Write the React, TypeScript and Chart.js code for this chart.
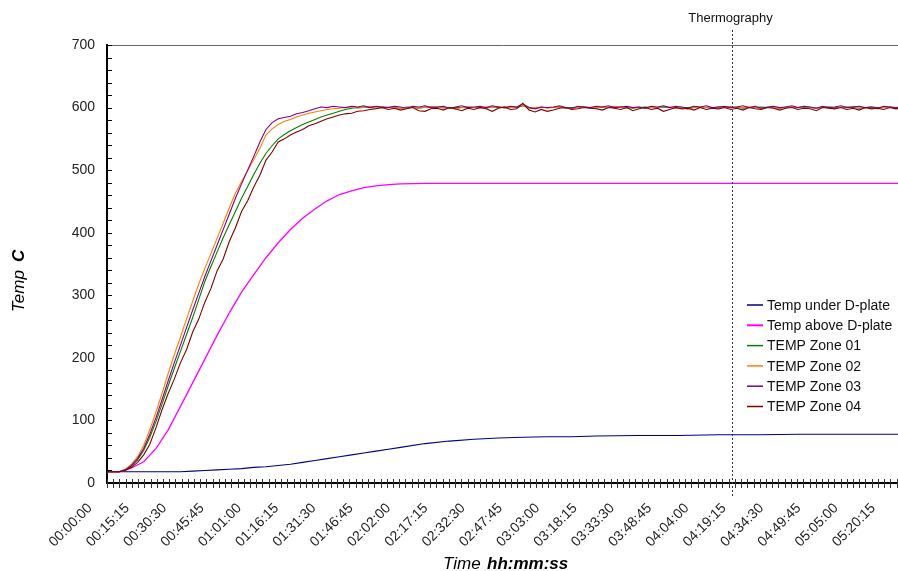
import React, { useEffect, useRef } from "react";
import { Chart, registerables } from "chart.js";

Chart.register(...registerables);

// ---------- DATA ----------
// time (seconds from start) for the zone thermocouples
const timeZones = [
  0, 150, 300, 450, 600, 750, 900, 1050, 1200, 1350,
  1500, 1650, 1800, 1950, 2100, 2250, 2400, 2550, 2700, 2850,
  3000, 3150, 3300, 3450, 3600, 3750, 3900, 4050, 4200, 4350,
  4500, 4650, 4800, 4950, 5100, 5250, 5400, 5550, 5700, 5850,
  6000, 6150, 6300, 6450, 6600, 6750, 6900, 7050, 7200, 7350,
  7500, 7650, 7800, 7950, 8100, 8250, 8400, 8550, 8700, 8850,
  9000, 9150, 9300, 9450, 9600, 9750, 9900, 10050, 10200, 10350,
  10500, 10650, 10800, 10950, 11100, 11250, 11400, 11550, 11700, 11850,
  12000, 12150, 12300, 12450, 12600, 12750, 12900, 13050, 13200, 13350,
  13500, 13650, 13800, 13950, 14100, 14250, 14400, 14550, 14700, 14850,
  15000, 15150, 15300, 15450, 15600, 15750, 15900, 16050, 16200, 16350,
  16500, 16650, 16800, 16950, 17100, 17250, 17400, 17550, 17700, 17850,
  18000, 18150, 18300, 18450, 18600, 18750, 18900, 19050, 19200, 19350,
  19500,
];

const zone01 = [
  18, 18, 18, 21, 27, 37, 52, 73, 98, 126,
  155, 183, 210, 237, 264, 293, 322, 346, 369, 392,
  413, 434, 455, 474, 493, 511, 527, 539, 550, 557,
  563, 568, 573, 577, 581, 585, 588, 591, 594, 597,
  599, 600, 601, 600, 599, 601, 600, 600, 599, 601,
  600, 599, 601, 600, 600, 601, 599, 600, 600, 601,
  600, 600, 599, 601, 600, 600, 601, 600, 603, 600,
  599, 600, 600, 600, 601, 599, 600, 600, 601, 600,
  599, 601, 600, 600, 601, 600, 599, 600, 601, 600,
  600, 601, 600, 599, 600, 600, 601, 600, 600, 599,
  601, 600, 600, 601, 599, 600, 600, 601, 600, 600,
  599, 601, 600, 600, 601, 600, 599, 600, 601, 600,
  600, 601, 600, 599, 600, 601, 600, 600, 601, 599,
  600,
];

const zone02 = [
  18, 18, 18, 22, 30, 42, 60, 85, 113, 143,
  175, 205, 233, 262, 290, 318, 343, 367, 391, 415,
  440, 463, 482, 499, 517, 535, 556, 566, 573, 578,
  581, 585, 588, 591, 593, 595, 597, 598, 599, 600,
  601, 599, 600, 602, 600, 599, 601, 600, 598, 600,
  601, 599, 600, 602, 601, 599, 600, 597, 600, 601,
  600, 599, 601, 600, 602, 599, 600, 601, 604, 598,
  600, 601, 599, 600, 601, 600, 598, 600, 601, 599,
  600, 601, 600, 602, 600, 599, 600, 601, 599, 600,
  600, 602, 601, 599, 600, 597, 600, 601, 600, 599,
  601, 600, 602, 599, 600, 601, 600, 598, 600, 601,
  599, 600, 601, 600, 602, 600, 599, 600, 601, 599,
  600, 600, 602, 601, 599, 600, 598, 600, 601, 600,
  599,
];

const zone03 = [
  18, 18, 18, 21, 28, 39, 55, 78, 104, 133,
  163, 192, 220, 248, 276, 303, 330, 355, 380, 405,
  430, 455, 478, 500, 522, 545, 565, 576, 582, 584,
  586, 590, 592, 595, 598, 601, 600, 602, 601, 600,
  602, 601, 603, 600, 602, 601, 600, 602, 601, 599,
  602, 601, 603, 600, 601, 602, 599, 601, 603, 600,
  601, 602, 600, 603, 601, 600, 602, 601, 606, 600,
  598, 601, 600, 601, 603, 600, 599, 602, 601, 600,
  602, 601, 603, 600, 601, 602, 600, 601, 599, 602,
  601, 603, 600, 602, 601, 599, 602, 601, 603, 600,
  601, 602, 600, 601, 603, 600, 602, 599, 601, 602,
  600, 601, 603, 600, 602, 601, 599, 602, 600, 601,
  603, 600, 601, 602, 600, 601, 599, 602, 601, 600,
  601,
];

const zone04 = [
  18, 18, 18, 20, 25, 33, 45, 62, 88, 117,
  143, 166, 192, 213, 241, 262, 289, 311, 339, 358,
  386, 408, 434, 451, 473, 492, 516, 529, 545, 550,
  556, 561, 565, 571, 574, 578, 582, 585, 588, 590,
  591, 594, 595, 597, 598, 600, 597, 599, 596, 598,
  600, 595, 594, 598, 599, 596, 600, 598, 595, 599,
  597, 600, 598, 594, 599, 601, 597, 598, 607, 596,
  593, 597, 594, 596, 599, 600, 597, 598, 600, 599,
  598, 596, 600, 599, 597, 600, 595, 598, 600, 597,
  599, 594, 597, 600, 598, 599, 596, 600, 597, 599,
  598, 600, 597, 599, 596, 600, 598, 597, 600, 599,
  596, 599, 600, 597, 599, 598, 595, 600, 599, 598,
  600, 597, 599, 596, 600, 598, 599, 597, 600, 598,
  599,
];

// time (seconds) for the two smooth plate thermocouples
const timePlate = [
  0, 300, 600, 900, 1200, 1500, 1800, 2100, 2400, 2700,
  3000, 3300, 3600, 3900, 4200, 4500, 4800, 5100, 5400, 5700,
  6000, 6300, 6600, 6900, 7200, 7800, 8400, 9000, 9600, 10200,
  10800, 11400, 12000, 13000, 14000, 15000, 16000, 17000, 18000, 19000,
  19500,
];

const underPlate = [
  18, 18, 18, 18, 18, 18, 18, 19, 20, 21,
  22, 23, 25, 26, 28, 30, 33, 36, 39, 42,
  45, 48, 51, 54, 57, 63, 67, 70, 72, 73,
  74, 74, 75, 76, 76, 77, 77, 78, 78, 78,
  78,
];

const abovePlate = [
  18, 18, 24, 34, 55, 85, 122, 160, 198, 236,
  272, 305, 333, 360, 384, 405, 423, 438, 451, 461,
  467, 472, 475, 477, 478, 479, 479, 479, 479, 479,
  479, 479, 479, 479, 479, 479, 479, 479, 479, 479,
  479,
];

const seriesNames = [
  "Temp under D-plate",
  "Temp above D-plate",
  "TEMP Zone 01",
  "TEMP Zone 02",
  "TEMP Zone 03",
  "TEMP Zone 04",
];
const seriesColors = ["#000080", "#ff00ff", "#008000", "#ff8000", "#800080", "#800000"];

const xLabelStep = 915; // 00:15:15
const xMinorPerLabel = 6;
const xMax = 19403;
const yMax = 700;
const yMinorStep = 20;
const yLabelStep = 100;
const thermographyTime = 15330;
const thermographyLabel = "Thermography";

const FONT = "'Liberation Sans', Arial, Helvetica, sans-serif";

function hms(sec: number): string {
  const s = Math.round(sec);
  const h = Math.floor(s / 3600);
  const m = Math.floor((s % 3600) / 60);
  const r = s % 60;
  const p = (n: number) => (n < 10 ? "0" + n : "" + n);
  return p(h) + ":" + p(m) + ":" + p(r);
}

function pts(times: number[], vals: number[]) {
  return vals.map((v, i) => ({ x: times[i], y: v }));
}

const decorPlugin = {
  id: "decor",
  afterDraw(chart: any) {
    const { ctx, chartArea, scales } = chart;
    const x = scales.x;
    const y = scales.y;
    ctx.save();

    // top frame line
    ctx.strokeStyle = "#666";
    ctx.lineWidth = 1;
    ctx.beginPath();
    ctx.moveTo(chartArea.left, chartArea.top + 0.5);
    ctx.lineTo(chartArea.right, chartArea.top + 0.5);
    ctx.stroke();

    // y ticks (inside)
    ctx.strokeStyle = "#000";
    ctx.beginPath();
    y.ticks.forEach((t: any) => {
      const py = Math.round(y.getPixelForValue(t.value)) + 0.5;
      ctx.moveTo(chartArea.left, py);
      ctx.lineTo(chartArea.left + 5, py);
    });
    ctx.stroke();

    // x ticks (crossing the axis)
    ctx.strokeStyle = "#333";
    ctx.beginPath();
    x.ticks.forEach((t: any) => {
      const px = Math.round(x.getPixelForValue(t.value)) + 0.5;
      ctx.moveTo(px, chartArea.bottom - 4);
      ctx.lineTo(px, chartArea.bottom + 5);
    });
    ctx.stroke();

    // Thermography marker
    const tx = Math.round(x.getPixelForValue(thermographyTime)) + 0.5;
    ctx.strokeStyle = "#333";
    ctx.setLineDash([2, 2]);
    ctx.beginPath();
    ctx.moveTo(tx, 30);
    ctx.lineTo(tx, chartArea.bottom + 14);
    ctx.stroke();
    ctx.setLineDash([]);
    ctx.fillStyle = "#111";
    ctx.font = "13px " + FONT;
    ctx.textAlign = "center";
    ctx.textBaseline = "alphabetic";
    ctx.fillText(thermographyLabel, tx - 2, 22);

    // legend
    ctx.font = "14px " + FONT;
    ctx.textAlign = "left";
    ctx.textBaseline = "middle";
    seriesNames.forEach((name, i) => {
      const ly = 305 + i * 20.3;
      ctx.strokeStyle = seriesColors[i];
      ctx.lineWidth = i === 1 ? 2 : 1.5;
      ctx.beginPath();
      ctx.moveTo(747, ly);
      ctx.lineTo(763, ly);
      ctx.stroke();
      ctx.fillStyle = "#111";
      ctx.fillText(name, 767, ly + 1);
    });

    // axis titles
    ctx.fillStyle = "#000";
    ctx.textBaseline = "alphabetic";
    ctx.textAlign = "left";
    ctx.font = "italic 17px " + FONT;
    ctx.fillText("Time", 443, 569);
    ctx.font = "italic bold 17px " + FONT;
    ctx.fillText("hh:mm:ss", 487, 569);

    ctx.save();
    ctx.translate(24, 312);
    ctx.rotate(-Math.PI / 2);
    ctx.font = "italic 17px " + FONT;
    ctx.fillText("Temp", 0, 0);
    ctx.font = "italic bold 17px " + FONT;
    ctx.fillText("C", 50, 0);
    ctx.restore();

    ctx.restore();
  },
};

export default function App() {
  const canvasRef = useRef<HTMLCanvasElement | null>(null);

  useEffect(() => {
    if (!canvasRef.current) return;
    const seriesData = [
      pts(timePlate, underPlate),
      pts(timePlate, abovePlate),
      pts(timeZones, zone01),
      pts(timeZones, zone02),
      pts(timeZones, zone03),
      pts(timeZones, zone04),
    ];
    const chart = new Chart(canvasRef.current, {
      type: "line",
      data: {
        datasets: seriesData.map((d, i) => ({
          label: seriesNames[i],
          data: d,
          borderColor: seriesColors[i],
          backgroundColor: seriesColors[i],
          borderWidth: i === 1 ? 1.3 : 1.1,
          pointRadius: 0,
          tension: 0,
          fill: false,
          order: seriesData.length - i,
        })),
      },
      options: {
        animation: false,
        responsive: false,
        devicePixelRatio: 1,
        layout: { padding: { top: 45, left: 0, right: 0, bottom: 0 } },
        plugins: {
          legend: { display: false },
          tooltip: { enabled: false },
          title: { display: false },
        },
        scales: {
          x: {
            type: "linear",
            min: 0,
            max: xMax,
            afterFit: (s: any) => {
              s.height = 88;
              s.paddingLeft = 0;
              s.paddingRight = 0;
            },
            grid: { display: false, drawTicks: false },
            border: { display: true, color: "#000", width: 2 },
            ticks: {
              stepSize: xLabelStep / xMinorPerLabel,
              includeBounds: false,
              autoSkip: false,
              minRotation: 45,
              maxRotation: 45,
              labelOffset: -17,
              padding: 17,
              color: "#222",
              font: { size: 14, family: FONT },
              callback: (v: any) => {
                const n = Number(v) / xLabelStep;
                return Math.abs(n - Math.round(n)) < 1e-6 ? hms(Number(v)) : "";
              },
            },
          },
          y: {
            type: "linear",
            min: 0,
            max: yMax,
            afterFit: (s: any) => {
              s.width = 107;
              s.paddingTop = 0;
              s.paddingBottom = 0;
            },
            grid: { display: false, drawTicks: false },
            border: { display: true, color: "#000", width: 2 },
            ticks: {
              stepSize: yMinorStep,
              autoSkip: false,
              padding: 12,
              color: "#222",
              font: { size: 14, family: FONT },
              callback: (v: any) => (Number(v) % yLabelStep === 0 ? String(v) : ""),
            },
          },
        },
      },
      plugins: [decorPlugin],
    } as any);
    return () => chart.destroy();
  }, []);

  return (
    <div style={{ position: "absolute", left: 0, top: 0, width: 898, height: 571, background: "#fff" }}>
      <canvas ref={canvasRef} width={898} height={571} style={{ display: "block" }} />
    </div>
  );
}
